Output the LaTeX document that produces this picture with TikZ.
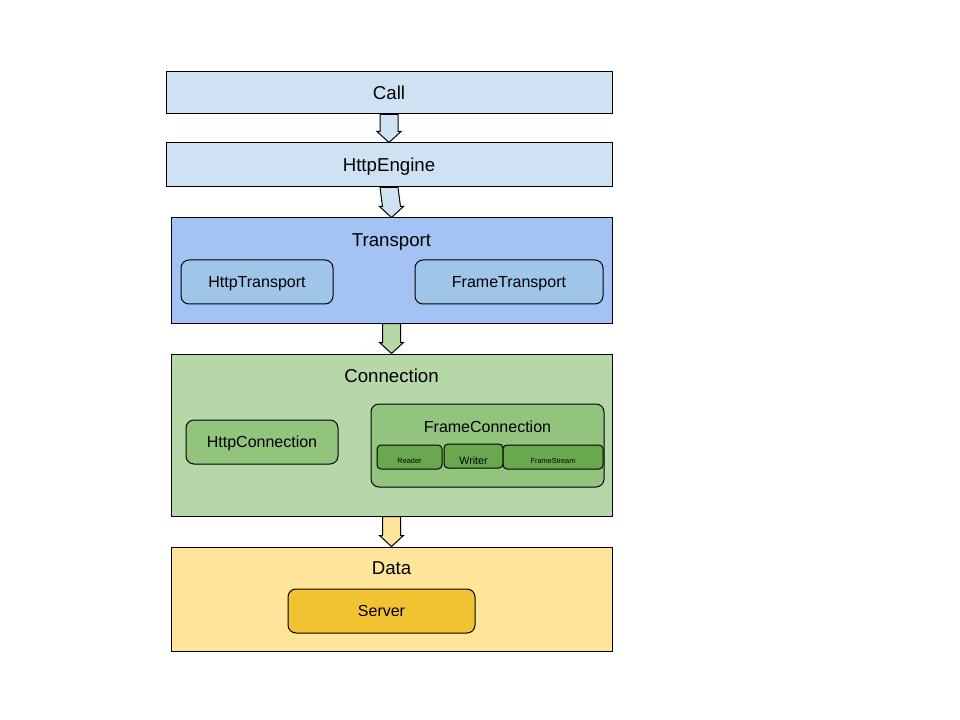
\documentclass[tikz,border=0pt]{standalone}
\usepackage{fontspec}
\setmainfont{Liberation Sans}
\usetikzlibrary{calc}
\definecolor{callblue}{HTML}{CFE2F3}
\definecolor{transblue}{HTML}{A4C2F4}
\definecolor{innerblue}{HTML}{9FC5E8}
\definecolor{conngreen}{HTML}{B6D7A8}
\definecolor{innergreen}{HTML}{93C47D}
\definecolor{darkgreen}{HTML}{6AA84F}
\definecolor{datayellow}{HTML}{FFE599}
\definecolor{serveryellow}{HTML}{F1C232}
% fat outlined arrow from the bottom of one box to the top of the next
\newcommand{\fatarrow}[3]{%
  \draw[line width=0.75pt, fill=#3]
    ($(#1.south)+(-9,0)$) -- ($(#1.south)+(9,0)$) -- ($(#2.north)+(9,-11)$)
    -- ($(#2.north)+(12,-11)$) -- (#2.north) -- ($(#2.north)+(-12,-11)$)
    -- ($(#2.north)+(-9,-11)$) -- cycle;}
\begin{document}
\begin{tikzpicture}[x=0.75pt, y=-0.75pt]
  \tikzstyle{layer} = [rectangle, draw, line width=0.75pt, inner sep=0pt, text height=10pt, text depth=0pt, font=\fontsize{14}{16}\selectfont]
  \tikzstyle{title} = [font=\fontsize{14}{16}\selectfont, text height=10pt, text depth=0pt, inner sep=0pt]
  \tikzstyle{part} = [rectangle, draw, rounded corners=6pt, line width=0.75pt, inner sep=0pt, minimum height=33pt, text height=8.6pt, text depth=0pt, font=\fontsize{12}{14}\selectfont]
  \tikzstyle{piece} = [rectangle, draw, rounded corners=3pt, line width=0.75pt, inner sep=0pt, minimum height=18pt, text depth=0pt, fill=darkgreen]
  \useasboundingbox[fill=white] (0,0) rectangle (960,720);

  % top layers
  \node[layer, fill=callblue, minimum width=334.5pt, minimum height=31.5pt] (call) at (389,93) {Call};
  \node[layer, fill=callblue, minimum width=334.5pt, minimum height=33pt] (engine) at (389,165) {HttpEngine};

  % transport
  \node[layer, fill=transblue, minimum width=330.75pt, minimum height=78.75pt] (transport) at (391.5,270.5) {};
  \node[title] (transporttitle) at (391.5,240) {Transport};
  \node[part, fill=innerblue, minimum width=114pt] (httptransport) at (257,282) {HttpTransport};
  \node[part, fill=innerblue, minimum width=141pt] (frametransport) at (509,282) {FrameTransport};

  % connection
  \node[layer, fill=conngreen, minimum width=330.75pt, minimum height=121.5pt] (connection) at (391.5,435) {};
  \node[title] (connectiontitle) at (391.5,376) {Connection};
  \node[part, fill=innergreen, minimum width=114pt] (httpconnection) at (262,442) {HttpConnection};
  \node[part, fill=innergreen, minimum width=174.75pt, minimum height=62.25pt] (frameconnection) at (487.5,445.5) {};
  \node[font=\fontsize{12}{14}\selectfont, text height=8.6pt, text depth=0pt, inner sep=0pt] (frameconntitle) at (487.5,427) {FrameConnection};
  \node[piece, minimum width=48.75pt, text height=10pt, font=\fontsize{5.5}{7}\selectfont] (reader) at (409.5,457) {Reader};
  \node[piece, minimum width=44.25pt, text height=13pt, font=\fontsize{8}{10}\selectfont] (writer) at (473.5,456) {Writer};
  \node[piece, minimum width=75pt, text height=10pt, font=\fontsize{5.5}{7}\selectfont] (framestream) at (553,457) {FrameStream};

  % data
  \node[layer, fill=datayellow, minimum width=330.75pt, minimum height=78pt] (data) at (391.5,599) {};
  \node[title] (datatitle) at (391.5,568) {Data};
  \node[part, fill=serveryellow, minimum width=140.25pt] (server) at (381.5,611) {Server};

  % arrows between layers
  \fatarrow{call}{engine}{callblue}
  \fatarrow{engine}{transport}{callblue}
  \fatarrow{transport}{connection}{conngreen}
  \fatarrow{connection}{data}{datayellow}
\end{tikzpicture}
\end{document}
